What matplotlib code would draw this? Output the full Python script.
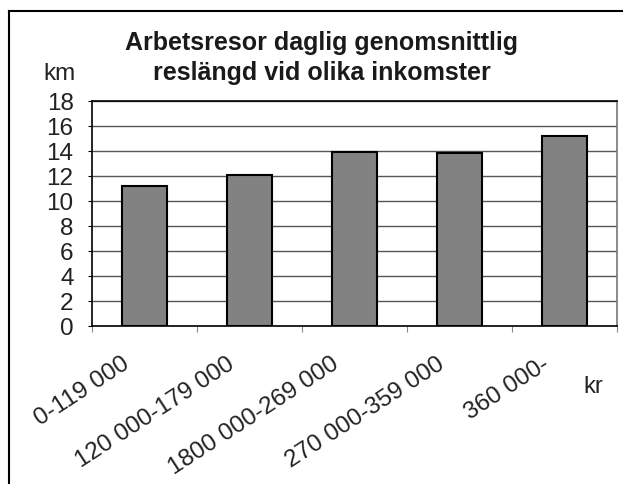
import matplotlib.pyplot as plt
from matplotlib.lines import Line2D
from matplotlib.transforms import ScaledTranslation
import numpy as np

plt.rcParams['font.family'] = ['Liberation Sans', 'DejaVu Sans']

# inkomstklasser och genomsnittlig reslängd (km)
klasser = ['0-119 000', '120 000-179 000', '1800 000-269 000',
           '270 000-359 000', '360 000-']
km = [11.2, 12.1, 13.9, 13.8, 15.2]
yticks = list(range(0, 19, 2))

fig = plt.figure(figsize=(6.23, 4.85), dpi=100)
ax = fig.add_axes([0.147, 0.326, 0.843, 0.464])

x = np.arange(len(klasser))
ax.bar(x, km, width=0.43, color='#828282', edgecolor='black', linewidth=1.5, zorder=3)

ax.set_xlim(-0.5, len(klasser) - 0.5)
ax.set_ylim(0, 18)
ax.set_yticks(yticks)
ax.set_yticklabels([str(v) for v in yticks], fontsize=17.5, color='#222222')
ax.yaxis.grid(True, color='#555555', linewidth=1.0, zorder=0)

# tick-streck mellan kategorierna, etiketter under staplarna
ax.set_xticks(np.arange(-0.5, len(klasser), 1.0))
ax.set_xticklabels([])
ax.set_xticks(x, minor=True)
ax.set_xticklabels(klasser, minor=True, rotation=33, ha='right',
                   rotation_mode='anchor', fontsize=17.5, color='#222222')
ax.tick_params(axis='x', which='minor', length=0, pad=19)
ax.tick_params(axis='x', which='major', length=4, color='#888888')
ax.tick_params(axis='y', length=3, pad=10)
for lbl in ax.get_xticklabels(minor=True):
    lbl.set_transform(lbl.get_transform() + ScaledTranslation(-0.23, 0, fig.dpi_scale_trans))
for s in ax.spines.values():
    s.set_linewidth(1.2)
ax.spines['right'].set_color('#777777')

fig.text(0.095, 0.835, 'km', fontsize=17.5, ha='center', va='baseline', color='#222222')
fig.text(0.953, 0.203, 'kr', fontsize=17, ha='center', va='center', color='#222222')

fig.text(0.516, 0.897, 'Arbetsresor daglig genomsnittlig', fontsize=18,
         fontweight='bold', ha='center', va='baseline', color='#1a1a1a')
fig.text(0.516, 0.835, 'reslängd vid olika inkomster', fontsize=18,
         fontweight='bold', ha='center', va='baseline', color='#1a1a1a')

# ram runt diagrammet
fig.add_artist(Line2D([0.0145, 0.0145], [0.0, 0.975], color='black', linewidth=1.5, transform=fig.transFigure))
fig.add_artist(Line2D([0.0145, 1.0], [0.975, 0.975], color='black', linewidth=1.5, transform=fig.transFigure))

fig.savefig('out.png', dpi=100)
